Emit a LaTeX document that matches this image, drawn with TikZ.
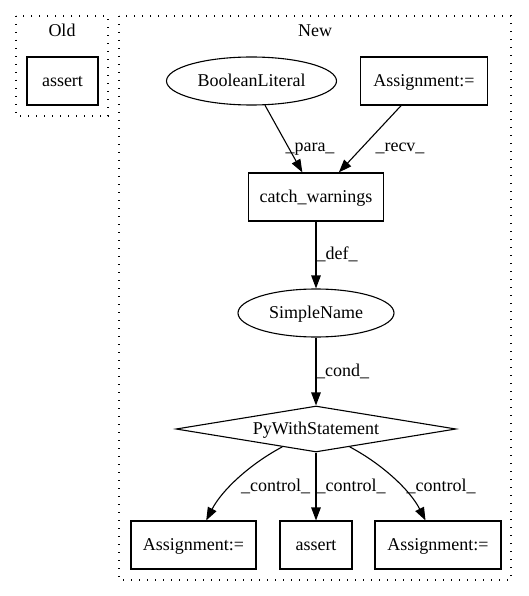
\documentclass[tikz,border=0pt]{standalone}
\usepackage{fontspec}
\setmainfont{Liberation Serif}
\usetikzlibrary{shapes.geometric,arrows.meta}
\begin{document}
\begin{tikzpicture}[x=1pt,y=-1pt,
  every node/.style={font=\fontsize{18}{20}\selectfont, text height=13pt, text depth=2.4pt, inner sep=0pt},
  box/.style={draw, line width=1.1pt, rectangle, minimum height=48pt},
  oval/.style={draw, line width=1.1pt, ellipse, minimum height=48pt},
  diam/.style={draw, line width=1.1pt, diamond, aspect=6.087, minimum width=280pt, minimum height=46pt},
  cluster/.style={draw, line width=1.1pt, dash pattern=on 1.3pt off 6.7pt},
  edge/.style={draw, line width=1.1pt, -{Triangle[length=13pt,width=9.5pt]}},
  elabel/.style={}
]
\useasboundingbox (0,0) rectangle (528,596);
% clusters
\draw[cluster] (16,16) rectangle (108,116);
\draw[cluster] (119,16) rectangle (511,580);
\node (lold) at (62,31) {Old};
\node (lnew) at (315,31) {New};
% nodes
\node[box, minimum width=71pt] (aold) at (62.5,81) {assert};
\node[oval, minimum width=170pt] (bl) at (251.5,81) {BooleanLiteral};
\node[box, minimum width=127pt] (a0) at (424,81) {Assignment:=};
\node[box, minimum width=135pt] (cw) at (316,197) {catch\_warnings};
\node[oval, minimum width=156pt] (sn) at (316,313) {SimpleName};
\node[diam] (pws) at (316,429) {PyWithStatement};
\node[box, minimum width=125pt] (a1) at (193.5,545) {Assignment:=};
\node[box, minimum width=72pt] (as) at (316,545) {assert};
\node[box, minimum width=126pt] (a2) at (438,545) {Assignment:=};
% edges
\draw[edge] (bl) -- (cw);
\draw[edge] (a0) -- (cw);
\draw[edge] (cw) -- (sn);
\draw[edge] (sn) -- (pws);
\draw[edge] (pws) .. controls (250,464) and (222,490) .. (a1);
\draw[edge] (pws) -- (as);
\draw[edge] (pws) .. controls (382,464) and (410,490) .. (a2);
% edge labels
\node[elabel] (lpara) at (310,146) {\_para\_};
\node[elabel] (lrecv) at (400,146) {\_recv\_};
\node[elabel] (ldef) at (337,254) {\_def\_};
\node[elabel] (lcond) at (342.5,371) {\_cond\_};
\node[elabel] (lc1) at (275.5,486.4) {\_control\_};
\node[elabel] (lc2) at (351,486.4) {\_control\_};
\node[elabel] (lc3) at (441,486.4) {\_control\_};
\end{tikzpicture}
\end{document}
